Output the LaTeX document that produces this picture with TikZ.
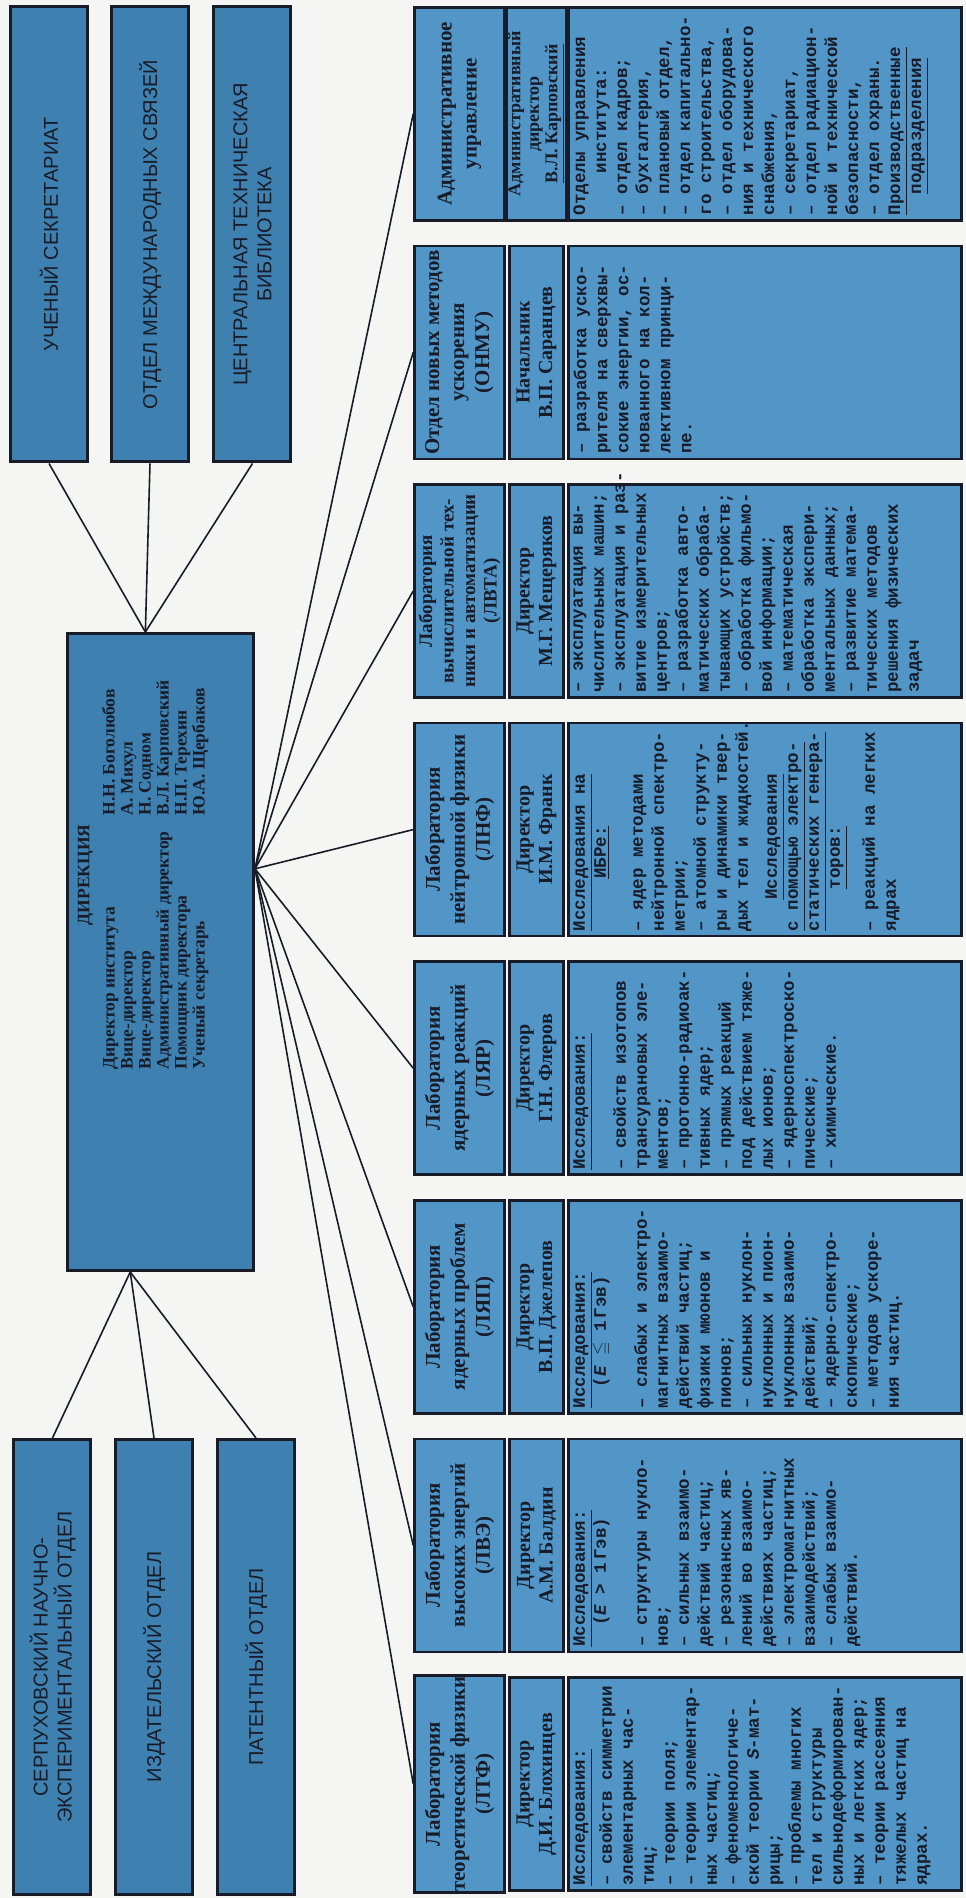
\documentclass[tikz,border=0pt]{standalone}
\usepackage{amssymb}
\usepackage{fontspec}
\setmainfont{Liberation Serif}
\newfontfamily\labfont{Liberation Serif}
\newfontfamily\typefont{Liberation Mono}
\newfontfamily\capsfont{Liberation Sans}
\usetikzlibrary{calc}
\pgfdeclarelayer{bg}
\pgfsetlayers{bg,main}

\definecolor{paper}{RGB}{245,246,243}
\definecolor{labblue}{RGB}{82,150,200}
\definecolor{deptblue}{RGB}{62,128,176}
\definecolor{ink}{RGB}{24,28,40}

\tikzset{
    titlebox/.style={draw=ink, line width=2.5pt, fill=labblue, text=ink,
        minimum width=213, minimum height=90, inner sep=1pt, align=center,
        font=\labfont\bfseries\fontsize{21}{25}\selectfont},
    headbox/.style={titlebox, minimum height=54, font=\labfont\bfseries\fontsize{20}{22.5}\selectfont},
    descbox/.style={draw=ink, line width=2.5pt, fill=labblue, minimum width=213, minimum height=393},
    desctext/.style={anchor=north west, inner sep=6pt, align=left, text=ink,
        font=\typefont\bfseries\fontsize{17.5}{21}\selectfont},
    deptbox/.style={draw=ink, line width=3pt, fill=deptblue, text=ink,
        minimum width=455, minimum height=77, align=center,
        font=\capsfont\fontsize{20}{24}\selectfont},
    dirbox/.style={draw=ink, line width=3pt, fill=deptblue, minimum width=637, minimum height=186},
    dirtext/.style={text=ink, align=center, inner sep=0pt,
        font=\bfseries\fontsize{17.5}{18}\selectfont},
    link/.style={draw=ink, line width=1.6pt}
}

\begin{document}
\begin{tikzpicture}[x=1pt, y=1pt, rotate=90, transform shape]

    \useasboundingbox (0,0) rectangle (1898,966);
    \begin{pgfonlayer}{bg}
        \fill[paper] (0,0) rectangle (1898,966);
    \end{pgfonlayer}

    % direction
    \node[dirbox] (dir) at (946,805.5) {};
    \node[dirtext] (dirT) at (1023,822) {ДИРЕКЦИЯ\\[8pt]
        \begin{tabular}{@{}l@{\hspace{16pt}}l@{}}
        Директор института & Н.Н. Боголюбов\\
        Вице-директор & А. Михул\\
        Вице-директор & Н. Содном\\
        Административный директор & В.Л. Карповский\\
        Помощник директора & Н.П. Терехин\\
        Ученый секретарь & Ю.А. Щербаков
        \end{tabular}};
    \coordinate (hubL) at ($(dir.north west)!0.34!(dir.south west)$);
    \coordinate (hubR) at ($(dir.north east)!0.42!(dir.south east)$);
    \coordinate (hubB) at ($(dir.south west)!0.63!(dir.south east)$);

    % left departments
    \node[deptbox] (serp) at (231,913.5) {СЕРПУХОВСКИЙ НАУЧНО-\\ЭКСПЕРИМЕНТАЛЬНЫЙ ОТДЕЛ};
    \node[deptbox] (izd) at (231,812) {ИЗДАТЕЛЬСКИЙ ОТДЕЛ};
    \node[deptbox] (pat) at (231,710) {ПАТЕНТНЫЙ ОТДЕЛ};

    % right departments
    \node[deptbox] (usek) at (1663.5,917) {УЧЕНЫЙ СЕКРЕТАРИАТ};
    \node[deptbox] (oms) at (1663.5,816) {ОТДЕЛ МЕЖДУНАРОДНЫХ СВЯЗЕЙ};
    \node[deptbox] (ctb) at (1663.5,713.5) {ЦЕНТРАЛЬНАЯ ТЕХНИЧЕСКАЯ\\БИБЛИОТЕКА};

    % LTF
    \node[titlebox] (ltfT) at (114,506.5) {Лаборатория\\теоретической физики\\(ЛТФ)};
    \node[headbox] (ltfH) at (114,429.5) {Директор\\Д.И. Блохинцев};
    \node[descbox] (ltfX) at (114,201) {};
    \node[desctext] at (ltfX.north west) {\underline{Исследования:}\\[6pt]
        – свойств симметрии\\
        элементарных час-\\
        тиц;\\
        – теории поля;\\
        – теории элементар-\\
        ных частиц;\\
        – феноменологиче-\\
        ской теории \textit{S}-мат-\\
        рицы;\\
        – проблемы многих\\
        тел и структуры\\
        сильнодеформирован-\\
        ных и легких ядер;\\
        – теории рассеяния\\
        тяжелых частиц на\\
        ядрах.};

    % LVE
    \node[titlebox] (lveT) at (352.6,506.5) {Лаборатория\\высоких энергий\\(ЛВЭ)};
    \node[headbox] (lveH) at (352.6,429.5) {Директор\\А.М. Балдин};
    \node[descbox] (lveX) at (352.6,201) {};
    \node[desctext] at (lveX.north west) {\underline{Исследования:}\\
        \hspace*{1.2em}(\textit{E} > 1\,Гэв)\\[20pt]
        – структуры нукло-\\
        нов;\\
        – сильных взаимо-\\
        действий частиц;\\
        – резонансных яв-\\
        лений во взаимо-\\
        действиях частиц;\\
        – электромагнитных\\
        взаимодействий;\\
        – слабых взаимо-\\
        действий.};

    % LYaP
    \node[titlebox] (lyapT) at (591.2,506.5) {Лаборатория\\ядерных проблем\\(ЛЯП)};
    \node[headbox] (lyapH) at (591.2,429.5) {Директор\\В.П. Джелепов};
    \node[descbox] (lyapX) at (591.2,201) {};
    \node[desctext] at (lyapX.north west) {\underline{Исследования:}\\
        \hspace*{1.2em}(\textit{E} $\leqq$ 1\,Гэв)\\[20pt]
        – слабых и электро-\\
        магнитных взаимо-\\
        действий частиц;\\
        физики мюонов и\\
        пионов;\\
        – сильных нуклон-\\
        нуклонных и пион-\\
        нуклонных взаимо-\\
        действий;\\
        – ядерно-спектро-\\
        скопические;\\
        – методов ускоре-\\
        ния частиц.};

    % LYaR
    \node[titlebox] (lyarT) at (829.8,506.5) {Лаборатория\\ядерных реакций\\(ЛЯР)};
    \node[headbox] (lyarH) at (829.8,429.5) {Директор\\Г.Н. Флеров};
    \node[descbox] (lyarX) at (829.8,201) {};
    \node[desctext] at (lyarX.north west) {\underline{Исследования:}\\[20pt]
        – свойств изотопов\\
        трансурановых эле-\\
        ментов;\\
        – протонно-радиоак-\\
        тивных ядер;\\
        – прямых реакций\\
        под действием тяже-\\
        лых ионов;\\
        – ядерноспектроско-\\
        пические;\\
        – химические.};

    % LNF
    \node[titlebox] (lnfT) at (1068.4,506.5) {Лаборатория\\нейтронной физики\\(ЛНФ)};
    \node[headbox] (lnfH) at (1068.4,429.5) {Директор\\И.М. Франк};
    \node[descbox] (lnfX) at (1068.4,201) {};
    \node[desctext] at (lnfX.north west) {\underline{Исследования на}\\
        \hspace*{3em}\underline{ИБРе:}\\[16pt]
        – ядер методами\\
        нейтронной спектро-\\
        метрии;\\
        – атомной структу-\\
        ры и динамики твер-\\
        дых тел и жидкостей.\\[8pt]
        \hspace*{1.8em}\underline{Исследования}\\
        \underline{с помощью электро-}\\
        \underline{статических генера-}\\
        \hspace*{2.4em}\underline{торов:}\\[14pt]
        – реакций на легких\\
        ядрах};

    % LVTA
    \node[titlebox, font=\labfont\bfseries\fontsize{19}{21.5}\selectfont] (lvtaT) at (1307,506.5)
        {Лаборатория\\вычислительной тех-\\ники и автоматизации\\(ЛВТА)};
    \node[headbox] (lvtaH) at (1307,429.5) {Директор\\М.Г. Мещеряков};
    \node[descbox] (lvtaX) at (1307,201) {};
    \node[desctext] at (lvtaX.north west) {– эксплуатация вы-\\
        числительных машин;\\
        – эксплуатация и раз-\\
        витие измерительных\\
        центров;\\
        – разработка авто-\\
        матических обраба-\\
        тывающих устройств;\\
        – обработка фильмо-\\
        вой информации;\\
        – математическая\\
        обработка экспери-\\
        ментальных данных;\\
        – развитие матема-\\
        тических методов\\
        решения физических\\
        задач};

    % ONMU
    \node[titlebox] (onmuT) at (1545.6,506.5) {Отдел новых методов\\ускорения\\(ОНМУ)};
    \node[headbox] (onmuH) at (1545.6,429.5) {Начальник\\В.П. Саранцев};
    \node[descbox] (onmuX) at (1545.6,201) {};
    \node[desctext] at (onmuX.north west) {– разработка уско-\\
        рителя на сверхвы-\\
        сокие энергии, ос-\\
        нованного на кол-\\
        лективном принци-\\
        пе.};

    % administration
    \node[titlebox] (admT) at (1784.2,506.5) {Административное\\управление};
    \node[headbox, font=\labfont\bfseries\fontsize{18}{18.5}\selectfont] (admH) at (1784.2,429.5)
        {Административный\\директор\\\underline{В.Л. Карповский}};
    \node[descbox] (admX) at (1784.2,201) {};
    \node[desctext] at (admX.north west) {Отделы управления\\
        \hspace*{2.4em}института:\\
        – отдел кадров;\\
        – бухгалтерия,\\
        – плановый отдел,\\
        – отдел капитально-\\
        го строительства,\\
        – отдел оборудова-\\
        ния и технического\\
        снабжения,\\
        – секретариат,\\
        – отдел радиацион-\\
        ной и технической\\
        безопасности,\\
        – отдел охраны.\\
        \underline{Производственные}\\
        \hspace*{1.2em}\underline{подразделения}};

    % connectors
    \begin{pgfonlayer}{bg}
        \foreach \n in {ltfT,lveT,lyapT,lyarT,lnfT,lvtaT,onmuT,admT}
            \draw[link] (hubB) -- (\n.north);
        \foreach \n in {serp,izd,pat}
            \draw[link] (hubL) -- (\n.east);
        \foreach \n in {usek,oms,ctb}
            \draw[link] (hubR) -- (\n.west);
    \end{pgfonlayer}

\end{tikzpicture}
\end{document}
